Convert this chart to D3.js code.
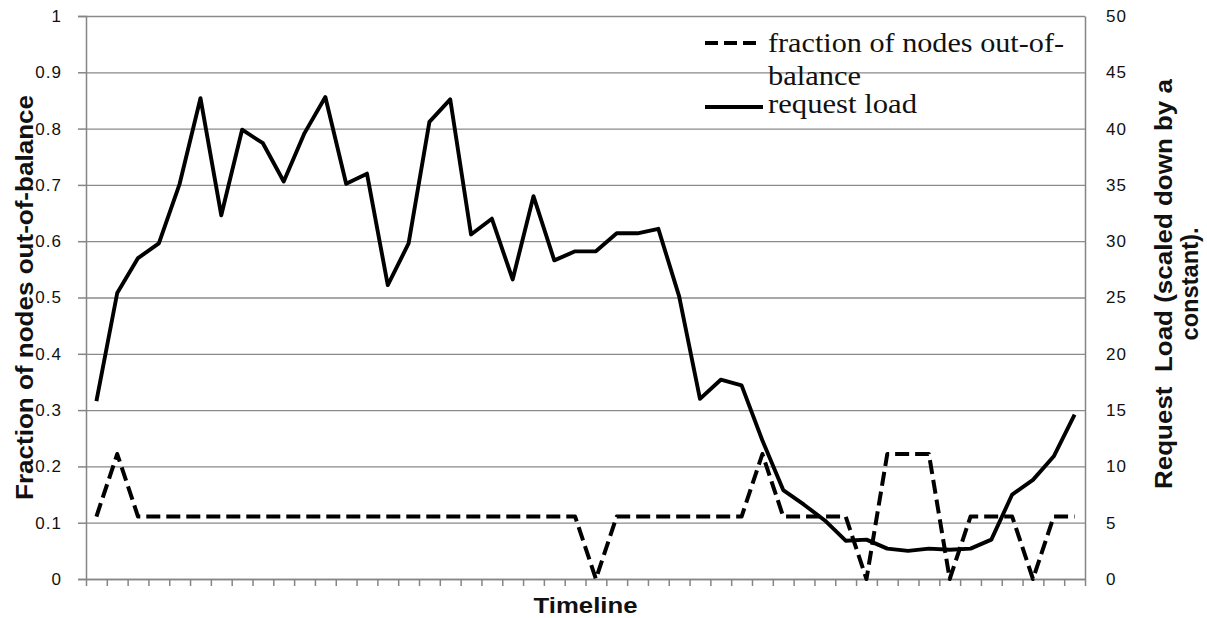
<!DOCTYPE html>
<html>
<head>
<meta charset="utf-8">
<script src="https://cdn.jsdelivr.net/npm/d3@7/dist/d3.min.js"></script>
<style>
  body { margin: 0; background: #fff; }
  .grid line { stroke: #8a8a8a; stroke-width: 1.3; }
  .grid path { display: none; }
  .axis path, .axis line { stroke: #858585; stroke-width: 1.5; }
  .axis text { font-family: "Liberation Sans", Arial, sans-serif; font-size: 17px; fill: #111; letter-spacing: 1px; }
  .title { font-family: "Liberation Sans", Arial, sans-serif; font-weight: bold; fill: #111; }
  .legend text { font-family: "Liberation Serif", "Times New Roman", serif; font-size: 28px; fill: #111; }
</style>
</head>
<body>
<div id="chart"></div>
<script>
// timeline samples (48 categories, unlabeled on the chart)
var timeSteps = [1, 2, 3, 4, 5, 6, 7, 8, 9, 10, 11, 12, 13, 14, 15, 16,
  17, 18, 19, 20, 21, 22, 23, 24, 25, 26, 27, 28, 29, 30, 31, 32,
  33, 34, 35, 36, 37, 38, 39, 40, 41, 42, 43, 44, 45, 46, 47, 48];

// fraction of nodes out-of-balance (left axis)
var outOfBalance = [0.111, 0.222, 0.111, 0.111, 0.111, 0.111, 0.111, 0.111, 0.111, 0.111, 0.111, 0.111,
  0.111, 0.111, 0.111, 0.111, 0.111, 0.111, 0.111, 0.111, 0.111, 0.111, 0.111, 0.111,
  0, 0.111, 0.111, 0.111, 0.111, 0.111, 0.111, 0.111, 0.222, 0.111, 0.111, 0.111,
  0.111, 0, 0.222, 0.222, 0.222, 0, 0.111, 0.111, 0.111, 0, 0.111, 0.111];

// request load, scaled down by a constant (right axis)
var requestLoad = [15.8, 25.4, 28.5, 29.8, 35.1, 42.7, 32.3, 39.9, 38.7, 35.3, 39.6, 42.8,
  35.1, 36.0, 26.1, 29.8, 40.6, 42.6, 30.6, 32.0, 26.6, 34.0, 28.3, 29.1,
  29.1, 30.7, 30.7, 31.1, 25.1, 16.0, 17.7, 17.2, 12.3, 7.9, 6.6, 5.2,
  3.4, 3.5, 2.7, 2.5, 2.7, 2.6, 2.7, 3.5, 7.5, 8.8, 10.9, 14.6];

var leftTicks = [0, 0.1, 0.2, 0.3, 0.4, 0.5, 0.6, 0.7, 0.8, 0.9, 1];
var rightTicks = [0, 5, 10, 15, 20, 25, 30, 35, 40, 45, 50];

var width = 1207, height = 618;
var plot = { left: 86, right: 1085, top: 16, bottom: 579 };

var svg = d3.select('#chart').append('svg').attr('width', width).attr('height', height);

var x = d3.scaleBand().domain(timeSteps).range([plot.left, plot.right]).padding(0);
var xEdge = d3.scaleLinear().domain([0, timeSteps.length]).range([plot.left, plot.right]);
var yFrac = d3.scaleLinear().domain([0, 1]).range([plot.bottom, plot.top]);
var yLoad = d3.scaleLinear().domain([0, 50]).range([plot.bottom, plot.top]);

// horizontal gridlines
svg.append('g').attr('class', 'grid').attr('transform', 'translate(' + plot.left + ',0)')
  .call(d3.axisLeft(yFrac).tickValues(leftTicks).tickSize(-(plot.right - plot.left)).tickFormat(''));

// left axis
svg.append('g').attr('class', 'axis').attr('transform', 'translate(' + plot.left + ',0)')
  .call(d3.axisLeft(yFrac).tickValues(leftTicks).tickSize(8).tickPadding(16).tickFormat(function(d) { return String(d); }));

// right axis
svg.append('g').attr('class', 'axis').attr('transform', 'translate(' + plot.right + ',0)')
  .call(d3.axisRight(yLoad).tickValues(rightTicks).tickSize(0).tickPadding(21).tickFormat(function(d) { return String(d); }));

// bottom axis: ticks between categories
svg.append('g').attr('class', 'axis').attr('transform', 'translate(0,' + plot.bottom + ')')
  .call(d3.axisBottom(xEdge).tickValues(d3.range(timeSteps.length + 1)).tickSize(7).tickSizeOuter(0).tickFormat(''));

var cx = function(d, i) { return x(timeSteps[i]) + x.bandwidth() / 2; };

svg.append('path').datum(outOfBalance)
  .attr('fill', 'none').attr('stroke', '#000').attr('stroke-width', 4)
  .attr('stroke-dasharray', '14,6').attr('stroke-linejoin', 'round')
  .attr('d', d3.line().x(cx).y(function(d) { return yFrac(d); }));

svg.append('path').datum(requestLoad)
  .attr('fill', 'none').attr('stroke', '#000').attr('stroke-width', 3.9)
  .attr('stroke-linejoin', 'round')
  .attr('d', d3.line().x(cx).y(function(d) { return yLoad(d); }));

// axis titles
svg.append('text').attr('class', 'title')
  .attr('transform', 'translate(33,' + ((plot.top + plot.bottom) / 2) + ') rotate(-90)')
  .attr('text-anchor', 'middle').style('font-size', '23px')
  .attr('textLength', 405).attr('lengthAdjust', 'spacingAndGlyphs')
  .text('Fraction of nodes out-of-balance');

var rt = svg.append('g').attr('transform', 'translate(1172,284) rotate(-90)');
rt.append('text').attr('class', 'title').attr('text-anchor', 'middle').style('font-size', '23px')
  .style('white-space', 'pre').attr('textLength', 410).attr('lengthAdjust', 'spacingAndGlyphs')
  .text('Request  Load (scaled down by a');
rt.append('text').attr('class', 'title').attr('text-anchor', 'middle').style('font-size', '23px')
  .attr('y', 26).attr('textLength', 113).attr('lengthAdjust', 'spacingAndGlyphs')
  .text('constant).');

svg.append('text').attr('class', 'title')
  .attr('x', (plot.left + plot.right) / 2).attr('y', 613)
  .attr('text-anchor', 'middle').style('font-size', '22px')
  .attr('textLength', 104).attr('lengthAdjust', 'spacingAndGlyphs')
  .text('Timeline');

// legend
var legend = svg.append('g').attr('class', 'legend');
legend.append('line').attr('x1', 705).attr('x2', 756).attr('y1', 43).attr('y2', 43)
  .attr('stroke', '#000').attr('stroke-width', 4).attr('stroke-dasharray', '13,6');
legend.append('text').attr('x', 768).attr('y', 52)
  .attr('textLength', 296).attr('lengthAdjust', 'spacingAndGlyphs').text('fraction of nodes out-of-');
legend.append('text').attr('x', 768).attr('y', 85)
  .attr('textLength', 93).attr('lengthAdjust', 'spacingAndGlyphs').text('balance');
legend.append('line').attr('x1', 705).attr('x2', 763).attr('y1', 107).attr('y2', 107)
  .attr('stroke', '#000').attr('stroke-width', 4);
legend.append('text').attr('x', 768).attr('y', 113)
  .attr('textLength', 149).attr('lengthAdjust', 'spacingAndGlyphs').text('request load');
</script>
</body>
</html>
